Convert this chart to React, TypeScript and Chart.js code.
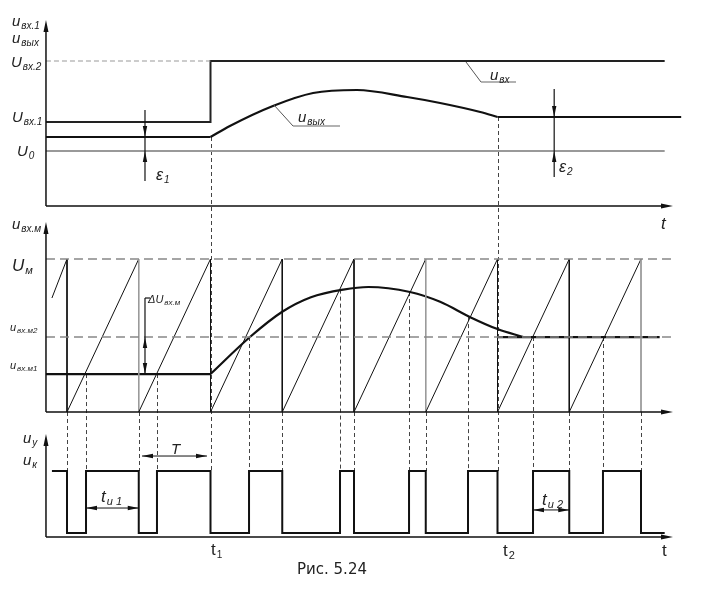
import React, { useEffect, useRef } from "react";
import { Chart, registerables } from "chart.js";
Chart.register(...registerables);

// ---------- DATA (time in units of the period T, t = 0 at the first ramp reset) ----------
// top panel: voltages (arbitrary units, 0 = time axis)
const Uin1 = 8.4;
const Uin2 = 14.5;
const U0 = 5.5;
const inT = [-0.293, 2, 2, 8.33];
const inV = [Uin1, Uin1, Uin2, Uin2];
const outFlatT = [-0.293, 2];
const outFlatV = [6.9, 6.9];
const outCurveT = [2, 2.27, 2.87, 3.43, 4.04, 4.74, 5.2, 5.76, 6];
const outCurveV = [6.9, 8.0, 10.0, 11.3, 11.6, 10.9, 10.3, 9.4, 8.9];
const outEndT = [6, 8.56];
const outEndV = [8.9, 8.9];

// middle panel: normalised (U_m = 1)
const Um = 1.0;
const um2 = 0.49;
const um1 = 0.248;
const sawT = [-0.21, 0, 0, 1, 1, 2, 2, 3, 3, 4, 4, 5, 5, 6, 6, 7, 7, 8, 8];
const sawV = [0.745, 1, 0, 1, 0, 1, 0, 1, 0, 1, 0, 1, 0, 1, 0, 1, 0, 1, 0];
const grayResets = [1, 5, 8];
const refFlatT = [-0.293, 2];
const refFlatV = [um1, um1];
const refCurveT = [2, 2.55, 3.0, 3.4, 3.85, 4.2, 4.78, 5.2, 5.62, 6.0, 6.36];
const refCurveV = [um1, 0.49, 0.655, 0.75, 0.80, 0.817, 0.784, 0.72, 0.62, 0.542, um2];
const refEndT = [6, 8.26];
const refEndV = [um2, um2];
const crossT = [0.265, 1.254, 2.537, 3.805, 4.767, 5.589, 6.495, 7.47];
const crossV = [0.248, 0.248, 0.49, 0.80, 0.784, 0.62, 0.49, 0.49];
const resetT = [0, 1, 3, 4, 5, 7, 8];
const t1 = 2;
const t2 = 6;

// bottom panel: control pulses (u_k = 1); level held from each time to the next
const pulseT = [-0.21, 0, 0.265, 1, 1.254, 2, 2.537, 3, 3.805, 4, 4.767, 5, 5.589, 6, 6.495, 7, 7.47, 8, 8.33];
const pulseV = [1, 0.06, 1, 0.06, 1, 0.06, 1, 0.06, 1, 0.06, 1, 0.06, 1, 0.06, 1, 0.06, 1, 0.06, 0.06];

// ---------- LAYOUT ----------
const W = 721;
const H = 595;
const X0PX = 67; // pixel of t = 0
const TPX = 71.75; // pixels per period
const AXIS_T0 = -0.293;
const AXIS_T1 = 8.446;
const panels = {
  yTop: { base: 206, unit: 10 },
  yMid: { base: 412, unit: 153 },
  yBot: { base: 537, unit: 66 },
};
const rng = (p: { base: number; unit: number }) => ({
  min: (p.base - H) / p.unit,
  max: p.base / p.unit,
});

const pts = (xs: number[], ys: number[]) => xs.map((x, i) => ({ x, y: ys[i] }));

const FONT = '"Liberation Sans", Arial, sans-serif';

function arrowHead(ctx: CanvasRenderingContext2D, x: number, y: number, dir: string, len = 10, half = 2.5) {
  ctx.beginPath();
  if (dir === "up") { ctx.moveTo(x, y); ctx.lineTo(x - half, y + len); ctx.lineTo(x + half, y + len); }
  if (dir === "down") { ctx.moveTo(x, y); ctx.lineTo(x - half, y - len); ctx.lineTo(x + half, y - len); }
  if (dir === "left") { ctx.moveTo(x, y); ctx.lineTo(x + len, y - half); ctx.lineTo(x + len, y + half); }
  if (dir === "right") { ctx.moveTo(x, y); ctx.lineTo(x - len, y - half); ctx.lineTo(x - len, y + half); }
  ctx.closePath();
  ctx.fill();
}

function lab(ctx: CanvasRenderingContext2D, x: number, y: number, main: string, sub: string, ms: number, ss: number, italic = true) {
  const st = italic ? "italic " : "";
  ctx.font = `${st}${ms}px ${FONT}`;
  ctx.fillText(main, x, y);
  const w = ctx.measureText(main).width;
  if (sub) {
    ctx.font = `${st}${ss}px ${FONT}`;
    ctx.fillText(sub, x + w + 1, y + ms * 0.2);
  }
}

const annot = {
  id: "annot",
  beforeDatasetsDraw(chart: any) {
    const ctx = chart.ctx as CanvasRenderingContext2D;
    const X = (t: number) => chart.scales.x.getPixelForValue(t);
    const Y = (id: string, v: number) => chart.scales[id].getPixelForValue(v);
    ctx.save();
    ctx.strokeStyle = "#444";
    ctx.lineWidth = 1;
    ctx.setLineDash([4, 3]);
    const vline = (t: number, y0: number, y1: number) => {
      const x = Math.round(X(t)) + 0.5;
      ctx.beginPath();
      ctx.moveTo(x, y0);
      ctx.lineTo(x, y1);
      ctx.stroke();
    };
    resetT.forEach((t) => vline(t, Y("yMid", 0), Y("yBot", 1)));
    vline(t1, Y("yTop", outFlatV[1]), Y("yBot", 1));
    vline(t2, Y("yTop", outEndV[0]), Y("yBot", 1));
    crossT.forEach((t, i) => vline(t, Y("yMid", crossV[i]), Y("yBot", 1)));
    ctx.restore();
  },
  afterDatasetsDraw(chart: any) {
    const ctx = chart.ctx as CanvasRenderingContext2D;
    const X = (t: number) => chart.scales.x.getPixelForValue(t);
    const Y = (id: string, v: number) => chart.scales[id].getPixelForValue(v);
    ctx.save();
    // axes
    ctx.strokeStyle = "#111";
    ctx.fillStyle = "#111";
    ctx.lineWidth = 1.5;
    const axTop: Record<string, number> = { yTop: 20, yMid: 222, yBot: 434 };
    (["yTop", "yMid", "yBot"] as const).forEach((id) => {
      const yb = Y(id, 0);
      const xl = X(AXIS_T0);
      const xr = X(AXIS_T1);
      ctx.beginPath();
      ctx.moveTo(xl, yb);
      ctx.lineTo(xr - 6, yb);
      ctx.moveTo(xl, yb);
      ctx.lineTo(xl, axTop[id] + 6);
      ctx.stroke();
      arrowHead(ctx, xr, yb, "right", 12, 2.5);
      arrowHead(ctx, xl, axTop[id], "up", 12, 2.5);
    });

    // epsilon arrows, delta U arrow
    ctx.lineWidth = 1.2;
    const dimV = (t: number, id: string, vTop: number, vBot: number, downTip: number, upTip: number) => {
      const x = X(t);
      ctx.beginPath();
      ctx.moveTo(x, Y(id, vTop));
      ctx.lineTo(x, Y(id, vBot));
      ctx.stroke();
      arrowHead(ctx, x, Y(id, downTip), "down", 11, 2.2);
      arrowHead(ctx, x, Y(id, upTip), "up", 11, 2.2);
    };
    dimV(1.087, "yTop", 9.6, 2.5, outFlatV[0], U0);
    dimV(6.79, "yTop", 11.7, 2.9, outEndV[0], U0);
    dimV(1.087, "yMid", 0.745, um1, um1, um2);
    ctx.beginPath();
    ctx.moveTo(X(1.087), Y("yMid", 0.745));
    ctx.lineTo(X(1.087) + 5, Y("yMid", 0.745));
    ctx.stroke();

    // horizontal double arrows (T, t_i1, t_i2)
    ctx.lineWidth = 1;
    const dimH = (ta: number, tb: number, v: number) => {
      const y = Y("yBot", v);
      const xa = X(ta);
      const xb = X(tb);
      ctx.beginPath();
      ctx.moveTo(xa, y);
      ctx.lineTo(xb, y);
      ctx.stroke();
      arrowHead(ctx, xa, y, "left", 11, 2.2);
      arrowHead(ctx, xb, y, "right", 11, 2.2);
    };
    dimH(1.045, 1.951, 1.227);
    dimH(0.265, 1.0, 0.439);
    dimH(6.495, 7.0, 0.41);

    // leader lines
    ctx.strokeStyle = "#555";
    ctx.lineWidth = 1;
    ctx.beginPath();
    ctx.moveTo(X(5.561), Y("yTop", 14.4));
    ctx.lineTo(X(5.77), Y("yTop", 12.4));
    ctx.moveTo(X(2.885), Y("yTop", 10.1));
    ctx.lineTo(X(3.15), Y("yTop", 8.0));
    ctx.stroke();
    ctx.strokeStyle = "#999";
    ctx.lineWidth = 1.6;
    ctx.beginPath();
    ctx.moveTo(X(5.77), Y("yTop", 12.4));
    ctx.lineTo(X(6.258), Y("yTop", 12.4));
    ctx.moveTo(X(3.15), Y("yTop", 8.0));
    ctx.lineTo(X(3.805), Y("yTop", 8.0));
    ctx.stroke();

    // text
    ctx.fillStyle = "#222";
    ctx.textBaseline = "alphabetic";
    lab(ctx, 12, 26, "u", "вх.1", 15, 10);
    lab(ctx, 12, 43, "u", "вых", 15, 10);
    lab(ctx, 11, 67, "U", "вх.2", 15, 10);
    lab(ctx, 12, 122, "U", "вх.1", 15, 10);
    lab(ctx, 17, 156, "U", "0", 15, 10);
    lab(ctx, 156, 180, "ε", "1", 16, 10);
    lab(ctx, 559, 172, "ε", "2", 16, 10);
    lab(ctx, 298, 122, "u", "вых", 15, 10);
    lab(ctx, 490, 80, "u", "вх", 15, 10);
    lab(ctx, 661, 229, "t", "", 17, 10);

    lab(ctx, 12, 229, "u", "вх.м", 15, 10);
    lab(ctx, 12, 271, "U", "м", 17, 11);
    lab(ctx, 10, 331, "u", "вх.м2", 11, 8);
    lab(ctx, 10, 369, "u", "вх.м1", 11, 8);
    lab(ctx, 148, 303, "ΔU", "вх.м", 11, 8);

    lab(ctx, 23, 443, "u", "у", 15, 10);
    lab(ctx, 23, 465, "u", "к", 15, 10);
    lab(ctx, 171, 454, "T", "", 15, 10);
    lab(ctx, 101, 502, "t", "и 1", 17, 11);
    lab(ctx, 542, 505, "t", "и 2", 17, 11);
    lab(ctx, 211, 555, "t", "1", 17, 10, false);
    lab(ctx, 503, 556, "t", "2", 17, 11, false);
    lab(ctx, 662, 556, "t", "", 17, 10, false);
    ctx.font = `15px "DejaVu Sans", sans-serif`;
    ctx.fillText("Рис. 5.24", 297, 574);
    ctx.restore();
  },
};

export default function App() {
  const ref = useRef<HTMLCanvasElement>(null);
  useEffect(() => {
    if (!ref.current) return;
    const line = (xs: number[], ys: number[], yAxisID: string, extra: any = {}) => ({
      data: pts(xs, ys),
      yAxisID,
      xAxisID: "x",
      borderColor: "#111",
      borderWidth: 2.2,
      pointRadius: 0,
      fill: false,
      tension: 0,
      ...extra,
    });
    const chart = new Chart(ref.current, {
      type: "line",
      data: {
        datasets: [
          // top panel
          line([AXIS_T0, t1], [Uin2, Uin2], "yTop", { borderColor: "#999", borderWidth: 1, borderDash: [5, 3] }),
          line([AXIS_T0, 8.33], [U0, U0], "yTop", { borderColor: "#999", borderWidth: 2 }),
          line(inT, inV, "yTop", { borderColor: "#222", borderWidth: 2 }),
          line(outFlatT, outFlatV, "yTop"),
          line(outCurveT, outCurveV, "yTop", { cubicInterpolationMode: "monotone" }),
          line(outEndT, outEndV, "yTop"),
          // middle panel
          line([AXIS_T0, 8.47], [Um, Um], "yMid", { borderColor: "#888", borderWidth: 1.5, borderDash: [9, 5] }),
          line([AXIS_T0, 8.47], [um2, um2], "yMid", { borderColor: "#888", borderWidth: 1.5, borderDash: [9, 5] }),
          line(sawT, sawV, "yMid", {
            borderWidth: 1,
            borderColor: "#111",
            segment: {
              borderColor: (c: any) =>
                sawT[c.p0DataIndex] === sawT[c.p1DataIndex] && grayResets.includes(sawT[c.p0DataIndex]) ? "#999" : "#111",
            },
          }),
          line(refFlatT, refFlatV, "yMid"),
          line(refCurveT, refCurveV, "yMid", { cubicInterpolationMode: "monotone" }),
          line(refEndT, refEndV, "yMid"),
          // bottom panel
          line(pulseT, pulseV, "yBot", { stepped: "before", borderWidth: 2 }),
        ],
      },
      options: {
        animation: false,
        responsive: false,
        devicePixelRatio: 1,
        events: [],
        layout: { padding: 0 },
        plugins: { legend: { display: false }, tooltip: { enabled: false }, title: { display: false } },
        scales: {
          x: { type: "linear", display: false, min: -X0PX / TPX, max: (W - X0PX) / TPX },
          yTop: { type: "linear", display: false, ...rng(panels.yTop) },
          yMid: { type: "linear", display: false, ...rng(panels.yMid) },
          yBot: { type: "linear", display: false, ...rng(panels.yBot) },
        },
      },
      plugins: [annot],
    });
    return () => chart.destroy();
  }, []);
  return (
    <div style={{ position: "absolute", left: 0, top: 0, width: W, height: H, background: "#fff" }}>
      <canvas ref={ref} width={W} height={H} style={{ display: "block" }} />
    </div>
  );
}
